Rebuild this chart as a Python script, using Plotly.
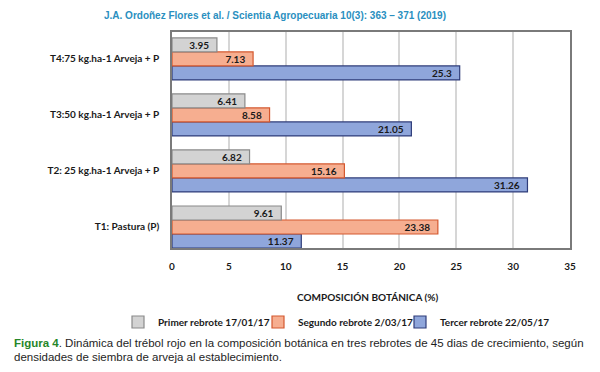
import plotly.graph_objects as go

categories = ["T1: Pastura (P)", "T2: 25 kg.ha-1 Arveja + P",
              "T3:50 kg.ha-1 Arveja + P", "T4:75 kg.ha-1 Arveja + P"]
primer = [9.61, 6.82, 6.41, 3.95]
segundo = [23.38, 15.16, 8.58, 7.13]
tercer = [11.37, 31.26, 21.05, 25.3]
primer_lbl = ["9.61", "6.82", "6.41", "3.95"]
segundo_lbl = ["23.38", "15.16", "8.58", "7.13"]
tercer_lbl = ["11.37", "31.26", "21.05", "25.3"]
x_ticks = [0, 5, 10, 15, 20, 25, 30, 35]

FONT = "Lato"
lblfont = dict(family=FONT, size=10, color="#1a1a1a", weight="bold")

fig = go.Figure()
series = [
    ("Tercer rebrote 22/05/17", tercer, tercer_lbl, "#8fa6db", "#2f3d7a", "legend3"),
    ("Segundo rebrote 2/03/17", segundo, segundo_lbl, "#f6ae90", "#d4582f", "legend2"),
    ("Primer rebrote 17/01/17", primer, primer_lbl, "#d3d3d3", "#8a8a8a", "legend"),
]
for name, vals, lbls, fill, line, lg in series:
    fig.add_trace(go.Bar(
        y=categories, x=vals, name=name, orientation="h", legend=lg,
        text=[l + "  " for l in lbls], textposition="inside", insidetextanchor="end",
        textfont=lblfont, constraintext="none", cliponaxis=False,
        marker=dict(color=fill, line=dict(color=line, width=1.2)),
    ))

def leg(xpix):
    return dict(orientation="h", xref="container", yref="container",
                x=xpix/600, xanchor="left", y=(372-314)/372, yanchor="middle",
                font=dict(family=FONT, size=10, color="#1a1a1a", weight="bold"),
                itemwidth=30, bgcolor="rgba(0,0,0,0)")

# page body adds an 8px offset; figure coords = screenshot coords - 8
fig.update_layout(
    width=600, height=372,
    margin=dict(l=164, r=38, t=24, b=132, autoexpand=False),
    paper_bgcolor="white", plot_bgcolor="white",
    barmode="group", bargap=0.25, bargroupgap=0,
    font=dict(family=FONT, size=10, color="#1a1a1a"),
    showlegend=True,
    legend=leg(110), legend2=leg(250), legend3=leg(392),
    xaxis=dict(range=[0, 35], tickvals=x_ticks, showgrid=True, gridcolor="#d6d6d6",
               gridwidth=1.5, zeroline=False, showline=True, linecolor="#7a7a7a",
               linewidth=1.5, mirror=True, ticks="", ticklabelstandoff=8,
               tickfont=dict(family=FONT, size=10, color="#1a1a1a", weight="bold")),
    yaxis=dict(categoryorder="array", categoryarray=categories, range=[-0.375, 3.48],
               showgrid=False, zeroline=False, showline=True, linecolor="#7a7a7a",
               linewidth=1.5, mirror=True, ticks="", ticklabelstandoff=9,
               tickfont=dict(family=FONT, size=10, color="#1a1a1a", weight="bold")),
    annotations=[
        dict(text="COMPOSICIÓN BOTÁNICA (%)", xref="paper", yref="paper",
             x=0.49, y=-(297-248)/216, xanchor="center", yanchor="middle",
             showarrow=False, font=dict(family=FONT, size=10, color="#1a1a1a", weight="bold")),
        dict(text="J.A. Ordoñez Flores et al. / Scientia Agropecuaria 10(3): 363 – 371 (2019)",
             xref="paper", yref="paper", x=(275-172)/398, y=1 + 24/216,
             xanchor="center", yanchor="top", showarrow=False,
             font=dict(family="Liberation Sans", size=10, color="#2a8fc0", weight="bold")),
        dict(text="<b><span style='color:#26862a'>Figura 4</span></b>. Dinámica del trébol rojo en la composición botánica en tres rebrotes de 45 dias de crecimiento, según",
             xref="paper", yref="paper", x=(12-172)/398, y=-(343-248)/216,
             xanchor="left", yanchor="middle", showarrow=False,
             font=dict(family="Liberation Sans", size=11.5, color="#1e1e1e")),
        dict(text="densidades de siembra de arveja al establecimiento.",
             xref="paper", yref="paper", x=(12-172)/398, y=-(357-248)/216,
             xanchor="left", yanchor="middle", showarrow=False,
             font=dict(family="Liberation Sans", size=11.5, color="#1e1e1e")),
    ],
)

fig.write_html("out.html")
